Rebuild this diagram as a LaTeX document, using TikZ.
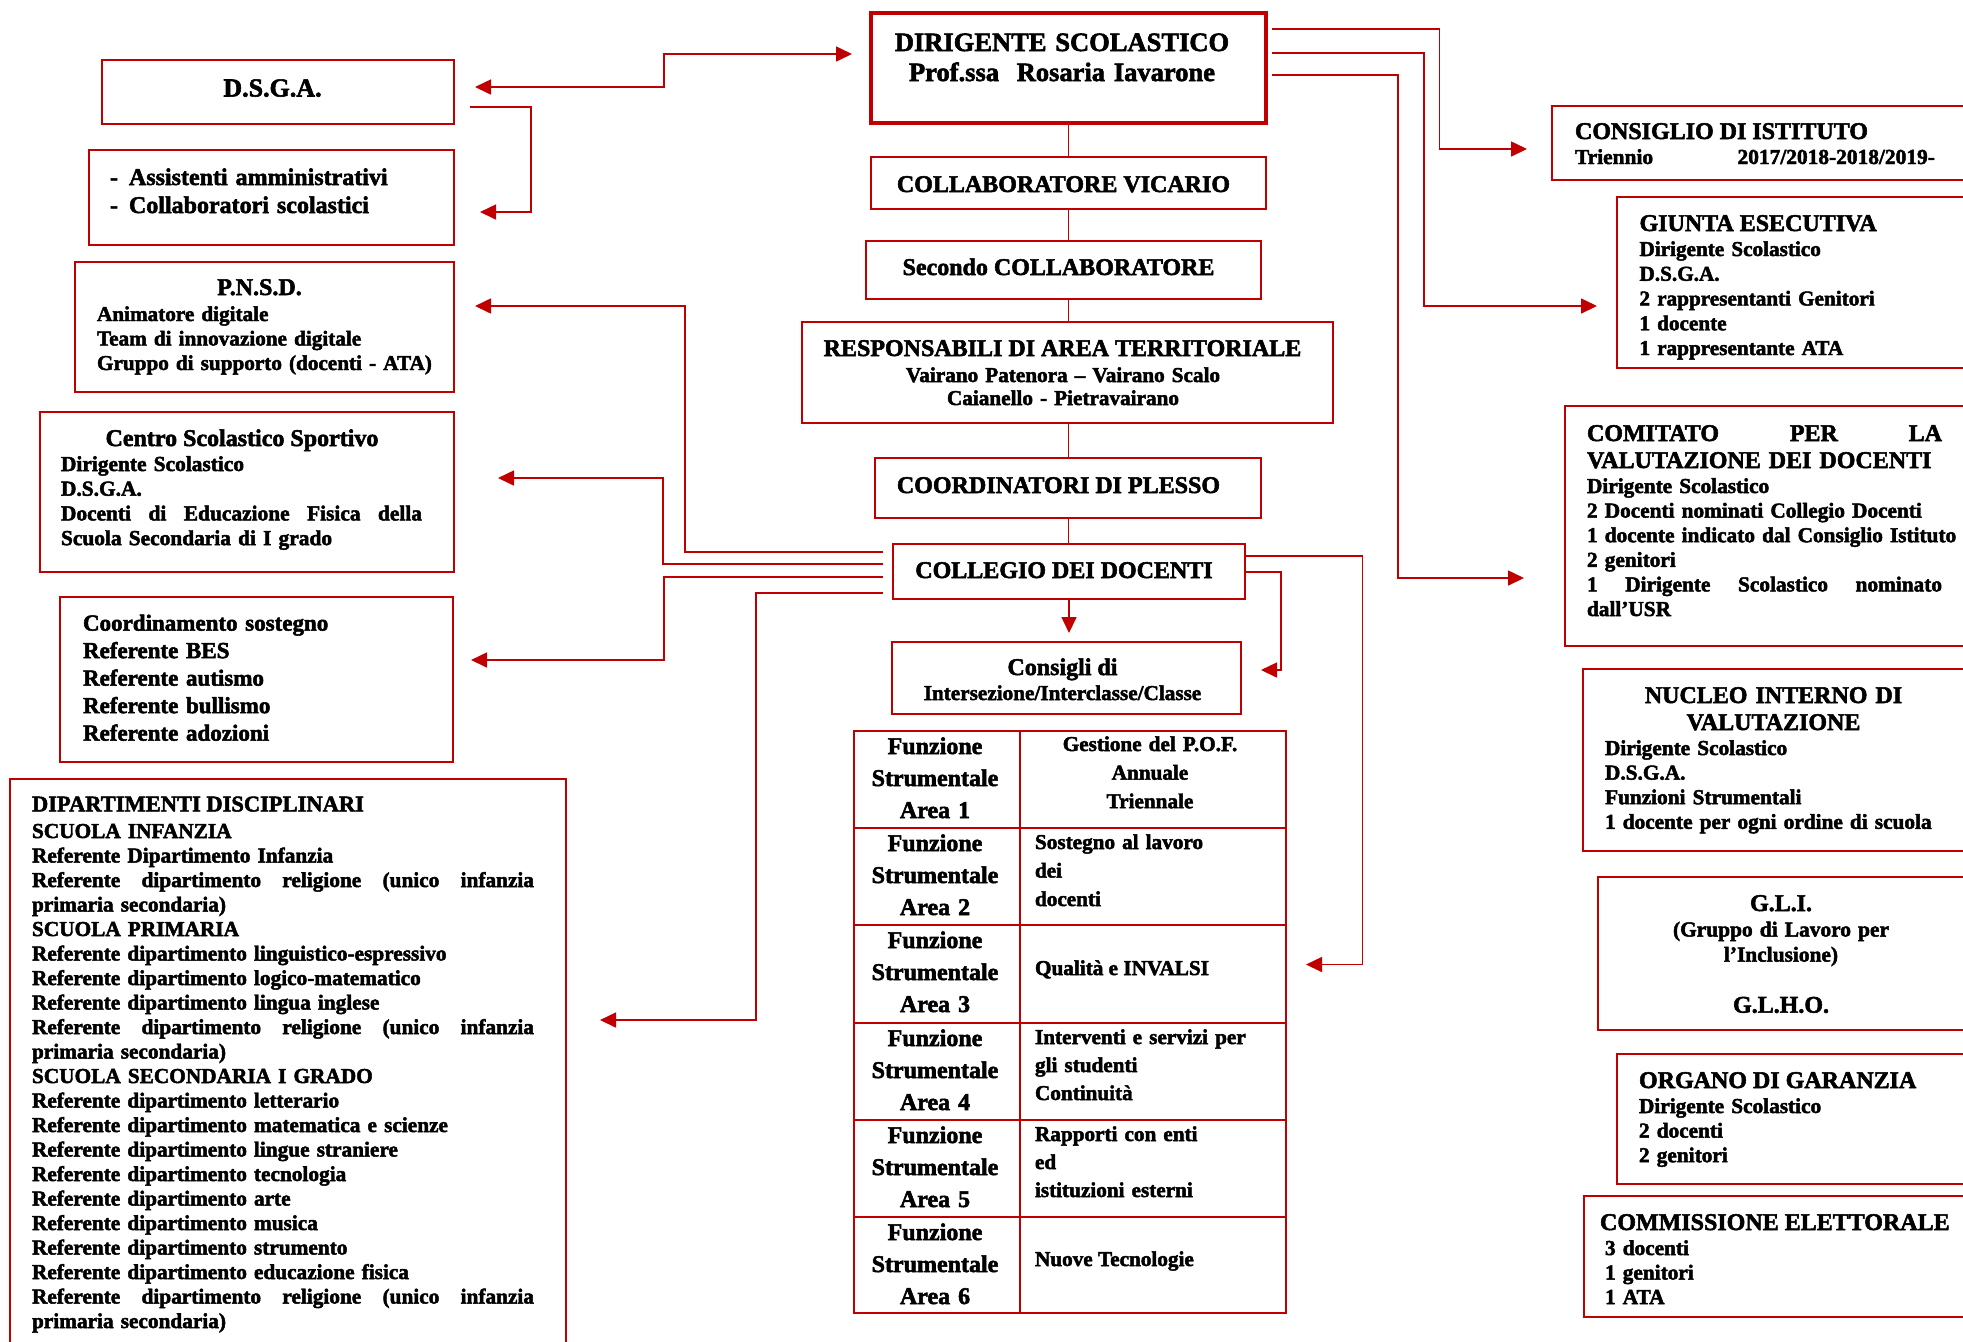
\documentclass[tikz,border=0pt]{standalone}
\usepackage{fontspec}
\setmainfont{Liberation Serif}[BoldFeatures={FakeBold=2.2}]
\usetikzlibrary{arrows.meta,fit}
\definecolor{dred}{RGB}{192,0,0}
\newcommand\szf[2]{\fontsize{#1pt}{#2pt}\selectfont\bfseries}
\newcommand\jus[2]{\leavevmode\hbox to #1{\spaceskip=0.3em plus 1fill\relax#2}}
\begin{document}
\begin{tikzpicture}[x=0.5pt,y=-0.5pt,
  rbox/.style={draw=dred,line width=1.3pt,inner sep=0pt,outer sep=0pt},
  thickbox/.style={rbox,line width=2pt},
  cell/.style={draw=dred,line width=1.1pt,inner sep=0pt,outer sep=0pt},
  link/.style={draw=dred,line width=0.8pt},
  arr/.style={-{Triangle[length=8pt,width=7.5pt]}},
  arrb/.style={{Triangle[length=8pt,width=7.5pt]}-{Triangle[length=8pt,width=7.5pt]}},
  txt/.style={inner sep=0pt,outer sep=0pt,text=black},
  hd/.style={txt,font={\szf{12}{14}}},
  bd/.style={txt,font={\szf{10.65}{12.3}}}]
\useasboundingbox (0,0) rectangle (1963,1341);
\fill[white] (0,0) rectangle (1963,1341);
\clip (0,0) rectangle (1963,1341);

% ---------- centre column ----------
\node[thickbox, fit={(871,13)(1266,123)}] (ds) {};
\node[txt, anchor=base, text width=220pt, align=center, font={\szf{13.25}{15}}] (ds-t) at (1062,51) {DIRIGENTE SCOLASTICO\\Prof.ssa\ \ Rosaria Iavarone};

\node[rbox, fit={(871,157)(1266,209)}] (vic) {};
\node[hd, anchor=base] (vic-t) at (1063.5,192) {COLLABORATORE VICARIO};

\node[rbox, fit={(866,241)(1261,299)}] (sec) {};
\node[hd, anchor=base] (sec-t) at (1058.5,275) {Secondo COLLABORATORE};

\node[rbox, fit={(802,322)(1333,423)}] (resp) {};
\node[hd, anchor=base] (resp-t) at (1062.5,356) {RESPONSABILI DI AREA TERRITORIALE};
\node[txt, anchor=base, text width=250pt, align=center, font={\szf{10.6}{11.5}}] (resp-b) at (1063,382) {Vairano Patenora – Vairano Scalo\\Caianello - Pietravairano};

\node[rbox, fit={(875,458)(1261,518)}] (coord) {};
\node[hd, anchor=base] (coord-t) at (1058.5,493) {COORDINATORI DI PLESSO};

\node[rbox, fit={(893,544)(1245,599)}] (coll) {};
\node[hd, anchor=base] (coll-t) at (1064,578) {COLLEGIO DEI DOCENTI};

\node[rbox, fit={(892,642)(1241,714)}] (cons) {};
\node[hd, anchor=base] (cons-t) at (1062.5,675) {Consigli di};
\node[txt, anchor=base, font={\szf{10.6}{12}}] (cons-b) at (1062.5,700) {Intersezione/Interclasse/Classe};

% ---------- table ----------
\node[cell, fit={(854,731)(1020,828)}] (f1) {};
\node[cell, fit={(854,828)(1020,925)}] (f2) {};
\node[cell, fit={(854,925)(1020,1023)}] (f3) {};
\node[cell, fit={(854,1023)(1020,1120)}] (f4) {};
\node[cell, fit={(854,1120)(1020,1217)}] (f5) {};
\node[cell, fit={(854,1217)(1020,1313)}] (f6) {};
\node[cell, fit={(1020,731)(1286,828)}] (g1) {};
\node[cell, fit={(1020,828)(1286,925)}] (g2) {};
\node[cell, fit={(1020,925)(1286,1023)}] (g3) {};
\node[cell, fit={(1020,1023)(1286,1120)}] (g4) {};
\node[cell, fit={(1020,1120)(1286,1217)}] (g5) {};
\node[cell, fit={(1020,1217)(1286,1313)}] (g6) {};
\foreach \r/\t in {1/731,2/828,3/925,4/1023,5/1120,6/1217}{
  \node[txt, anchor=base, text width=80pt, align=center, font={\szf{12}{16}}] (f\r-t) at (935,\t+23) {Funzione\\Strumentale\\Area \r};
}
\node[txt, anchor=base, text width=120pt, align=center, font={\szf{10.6}{14.3}}] (g1-t) at (1150,751) {Gestione del P.O.F.\\Annuale\\Triennale};
\node[txt, anchor=base west, text width=120pt, align=left, font={\szf{10.6}{14.25}}] (g2-t) at (1035,849) {Sostegno al lavoro\\dei\\docenti};
\node[txt, anchor=base west, font={\szf{10.6}{14}}] (g3-t) at (1035,975) {Qualità e INVALSI};
\node[txt, anchor=base west, text width=120pt, align=left, font={\szf{10.6}{14}}] (g4-t) at (1035,1044) {Interventi e servizi per\\gli studenti\\Continuità};
\node[txt, anchor=base west, text width=120pt, align=left, font={\szf{10.6}{14}}] (g5-t) at (1035,1141) {Rapporti con enti\\ed\\istituzioni esterni};
\node[txt, anchor=base west, font={\szf{10.6}{14}}] (g6-t) at (1035,1266) {Nuove Tecnologie};

% ---------- left column ----------
\node[rbox, fit={(102,60)(454,124)}] (dsga) {};
\node[txt, anchor=base, font={\szf{13}{15}}] (dsga-t) at (272.5,96.5) {D.S.G.A.};

\node[rbox, fit={(89,150)(454,245)}] (ass) {};
\node[txt, anchor=base west, text width=160pt, align=left, font={\szf{12}{14}}] (ass-t) at (110,185) {\makebox[9.5pt][l]{-}Assistenti amministrativi\\\makebox[9.5pt][l]{-}Collaboratori scolastici};

\node[rbox, fit={(75,262)(454,392)}] (pnsd) {};
\node[hd, anchor=base] (pnsd-t) at (259.5,295) {P.N.S.D.};
\node[txt, anchor=base west, text width=185pt, align=left, font={\szf{10.6}{12.25}}] (pnsd-b) at (97,321) {Animatore digitale\\Team di innovazione digitale\\Gruppo di supporto (docenti - ATA)};

\node[rbox, fit={(40,412)(454,572)}] (css) {};
\node[hd, anchor=base] (css-t) at (242,446) {Centro Scolastico Sportivo};
\node[txt, anchor=base west, text width=185pt, align=left, font={\szf{10.7}{12.35}}] (css-b) at (61,471) {Dirigente Scolastico\\D.S.G.A.\\\jus{180.5pt}{Docenti di Educazione Fisica della}\\Scuola Secondaria di I grado};

\node[rbox, fit={(60,597)(453,762)}] (sost) {};
\node[txt, anchor=base west, text width=180pt, align=left, font={\szf{11.5}{13.75}}] (sost-t) at (83,630.6) {Coordinamento sostegno\\Referente BES\\Referente autismo\\Referente bullismo\\Referente adozioni};

\node[rbox, fit={(10,779)(566,1380)}] (dip) {};
\node[txt, anchor=base west, font={\szf{11.25}{13}}] (dip-t) at (32,811.4) {DIPARTIMENTI DISCIPLINARI};
\node[txt, anchor=base west, text width=260pt, align=left, font={\szf{10.65}{12.25}}] (dip-b) at (32,838) {SCUOLA INFANZIA\\
Referente Dipartimento Infanzia\\
\jus{251pt}{Referente dipartimento religione (unico infanzia}\\
primaria secondaria)\\
SCUOLA PRIMARIA\\
Referente dipartimento linguistico-espressivo\\
Referente dipartimento logico-matematico\\
Referente dipartimento lingua inglese\\
\jus{251pt}{Referente dipartimento religione (unico infanzia}\\
primaria secondaria)\\
SCUOLA SECONDARIA I GRADO\\
Referente dipartimento letterario\\
Referente dipartimento matematica e scienze\\
Referente dipartimento lingue straniere\\
Referente dipartimento tecnologia\\
Referente dipartimento arte\\
Referente dipartimento musica\\
Referente dipartimento strumento\\
Referente dipartimento educazione fisica\\
\jus{251pt}{Referente dipartimento religione (unico infanzia}\\
primaria secondaria)};

% ---------- right column ----------
\node[rbox, fit={(1552,106)(2000,180)}] (cdi) {};
\node[hd, anchor=base west] (cdi-t) at (1575,139) {CONSIGLIO DI ISTITUTO};
\node[txt, anchor=base west, font={\szf{10.7}{12}}] (cdi-b1) at (1575,164) {Triennio};
\node[txt, anchor=base west, font={\szf{10.7}{12}}] (cdi-b2) at (1737.5,164) {2017/2018-2018/2019-};

\node[rbox, fit={(1617,197)(2000,368)}] (giunta) {};
\node[hd, anchor=base west] (giunta-t) at (1639.5,231) {GIUNTA ESECUTIVA};
\node[bd, anchor=base west, text width=160pt, align=left, font={\szf{10.6}{12.375}}] (giunta-b) at (1639.5,256) {Dirigente Scolastico\\D.S.G.A.\\2 rappresentanti Genitori\\1 docente\\1 rappresentante ATA};

\node[rbox, fit={(1565,406)(2000,646)}] (comit) {};
\node[txt, anchor=base west, text width=200pt, align=left, font={\szf{12}{13.5}}] (comit-t) at (1587,441) {\jus{177.5pt}{COMITATO PER LA}\\VALUTAZIONE DEI DOCENTI};
\node[bd, anchor=base west, text width=200pt, align=left] (comit-b) at (1587,493) {Dirigente Scolastico\\2 Docenti nominati Collegio Docenti\\1 docente indicato dal Consiglio Istituto\\2 genitori\\\jus{177.5pt}{1 Dirigente Scolastico nominato}\\dall’USR};

\node[rbox, fit={(1583,669)(2000,851)}] (nucleo) {};
\node[txt, anchor=base, text width=160pt, align=center, font={\szf{12}{13.5}}] (nucleo-t) at (1773.5,703) {NUCLEO INTERNO DI\\VALUTAZIONE};
\node[bd, anchor=base west, text width=190pt, align=left] (nucleo-b) at (1605,755) {Dirigente Scolastico\\D.S.G.A.\\Funzioni Strumentali\\1 docente per ogni ordine di scuola};

\node[rbox, fit={(1598,877)(2000,1030)}] (gli) {};
\node[hd, anchor=base] (gli-t) at (1781,911) {G.L.I.};
\node[txt, anchor=base, text width=150pt, align=center, font={\szf{10.7}{12.55}}] (gli-b) at (1781,936.5) {(Gruppo di Lavoro per\\l’Inclusione)};
\node[hd, anchor=base] (gli-h) at (1781,1012.7) {G.L.H.O.};

\node[rbox, fit={(1617,1054)(2000,1184)}] (organo) {};
\node[hd, anchor=base west] (organo-t) at (1639,1088) {ORGANO DI GARANZIA};
\node[bd, anchor=base west, text width=150pt, align=left] (organo-b) at (1639,1113) {Dirigente Scolastico\\2 docenti\\2 genitori};

\node[rbox, fit={(1584,1196)(2000,1317)}] (comm) {};
\node[hd, anchor=base west] (comm-t) at (1600,1230) {COMMISSIONE ELETTORALE};
\node[bd, anchor=base west, text width=150pt, align=left, font={\szf{10.65}{12.25}}] (comm-b) at (1605,1255) {3 docenti\\1 genitori\\1 ATA};

% ---------- connector end points ----------
\coordinate (dsIn) at (852,54);
\coordinate (dsgaIn) at (475,87);
\coordinate (dsgaOut) at (470,107);
\coordinate (assIn) at (480,212);
\coordinate (cdiIn) at (1527,149);
\coordinate (giuntaIn) at (1597,306);
\coordinate (comitIn) at (1524,578);
\coordinate (pnsdIn) at (475,306);
\coordinate (cssIn) at (498,478);
\coordinate (sostIn) at (471,660);
\coordinate (dipIn) at (600,1020);
\coordinate (tabIn) at (1306,964.5);
\coordinate (consIn) at (1261,670);

% ---------- connectors ----------
\draw[link] (ds.south) -- (ds.south |- vic.north);
\draw[link] (ds.south |- vic.south) -- (ds.south |- sec.north);
\draw[link] (ds.south |- sec.south) -- (ds.south |- resp.north);
\draw[link] (ds.south |- resp.south) -- (ds.south |- coord.north);
\draw[link] (ds.south |- coord.south) -- (ds.south |- coll.north);
\draw[link,arr] (coll.south) -- ++(0,34);

\draw[link,arrb] (dsgaIn) -- (664,87) -- (664,54) -- (dsIn);
\draw[link,arr] (dsgaOut) -- (531,107) -- (531,212) -- (assIn);

\draw[link,arr] (ds.east |- 0,29) ++(6,0) -- (1439.5,29) -- (1439.5,149) -- (cdiIn);
\draw[link,arr] (ds.east |- 0,53) ++(6,0) -- (1424,53) -- (1424,306) -- (giuntaIn);
\draw[link,arr] (ds.east |- 0,75) ++(6,0) -- (1398,75) -- (1398,578) -- (comitIn);

\draw[link,arr] (coll.west |- 0,552) ++(-10,0) -- (685,552) -- (685,306) -- (pnsdIn);
\draw[link,arr] (coll.west |- 0,564) ++(-10,0) -- (663,564) -- (663,478) -- (cssIn);
\draw[link,arr] (coll.west |- 0,577) ++(-10,0) -- (664,577) -- (664,660) -- (sostIn);
\draw[link,arr] (coll.west |- 0,593) ++(-10,0) -- (756,593) -- (756,1020) -- (dipIn);

\draw[link,arr] (coll.east |- 0,556) -- (1362.6,556) -- (1362.6,964.5) -- (tabIn);
\draw[link,arr] (coll.east |- 0,572) -- (1281,572) -- (1281,670) -- (consIn);
\end{tikzpicture}
\end{document}
